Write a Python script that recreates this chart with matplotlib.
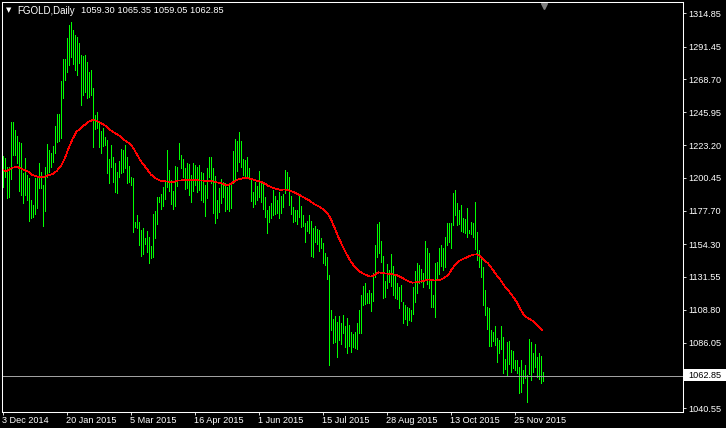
import matplotlib
matplotlib.use("Agg")
import matplotlib.pyplot as plt
import matplotlib.transforms as mtransforms
from matplotlib.patches import Rectangle
import numpy as np

# daily bar highs / lows (one value per bar)
highs = [
    1215.5, 1214.4, 1208.1, 1208.1, 1239.1, 1239.1, 1233.6, 1229.4, 1225.0, 1224.6,
    1203.7, 1213.9, 1202.3, 1200.0, 1185.0, 1181.5, 1200.0, 1201.2, 1210.7, 1204.6,
    1195.4, 1208.1, 1224.1, 1219.7, 1217.4, 1222.5, 1236.4, 1244.7, 1244.7, 1267.6,
    1282.9, 1282.9, 1297.3, 1306.5, 1308.4, 1303.0, 1299.6, 1298.4, 1293.8, 1285.7,
    1285.2, 1285.7, 1281.0, 1274.1, 1275.2, 1262.8, 1244.0, 1246.3, 1238.7, 1232.9,
    1235.2, 1228.9, 1226.6, 1213.2, 1223.1, 1215.0, 1210.4, 1204.6, 1212.0, 1220.1,
    1219.7, 1223.1, 1214.6, 1208.8, 1201.2, 1200.0, 1169.9, 1174.5, 1169.9, 1164.1,
    1165.7, 1158.3, 1163.4, 1159.5, 1153.0, 1175.2, 1177.3, 1187.3, 1186.8, 1189.1,
    1193.7, 1198.8, 1219.7, 1205.8, 1198.8, 1191.4, 1208.8, 1208.1, 1224.3, 1216.2,
    1213.3, 1207.0, 1210.5, 1210.0, 1202.4, 1210.9, 1209.3, 1208.2, 1209.3, 1204.7,
    1203.5, 1195.4, 1207.0, 1215.1, 1214.6, 1207.0, 1201.7, 1185.0, 1193.1, 1199.4,
    1197.7, 1196.6, 1194.3, 1196.1, 1197.7, 1219.0, 1227.1, 1226.0, 1232.0, 1226.2,
    1213.3, 1212.8, 1214.6, 1207.0, 1200.1, 1190.8, 1197.7, 1194.7, 1205.2, 1197.0,
    1196.1, 1186.9, 1178.1, 1180.5, 1183.0, 1192.0, 1187.8, 1185.0, 1190.6, 1187.8,
    1189.2, 1205.8, 1204.7, 1201.2, 1187.8, 1180.4, 1178.1, 1178.1, 1187.8, 1180.9,
    1174.6, 1169.3, 1170.7, 1174.6, 1170.7, 1165.3, 1166.9, 1164.6, 1164.2, 1158.4,
    1155.4, 1148.0, 1145.2, 1132.9, 1108.6, 1102.2, 1104.5, 1100.5, 1104.5, 1099.4,
    1105.2, 1097.5, 1102.8, 1098.2, 1093.6, 1092.0, 1093.6, 1099.4, 1108.6, 1119.0,
    1125.3, 1127.1, 1120.7, 1122.5, 1120.2, 1134.5, 1153.8, 1168.3, 1169.7, 1156.8,
    1146.1, 1129.0, 1140.6, 1136.4, 1147.5, 1139.2, 1132.9, 1127.6, 1124.8, 1126.0,
    1114.2, 1112.1, 1110.9, 1109.8, 1108.6, 1124.4, 1135.9, 1141.0, 1139.9, 1136.9,
    1134.1, 1156.8, 1151.4, 1148.4, 1129.9, 1119.0, 1141.5, 1142.2, 1151.4, 1153.8,
    1151.4, 1159.6, 1168.8, 1169.3, 1169.3, 1189.6, 1191.9, 1183.2, 1178.1, 1181.5,
    1172.3, 1171.6, 1179.2, 1164.2, 1169.5, 1168.8, 1183.6, 1163.0, 1150.3, 1146.1,
    1138.7, 1122.5, 1110.9, 1109.8, 1094.7, 1093.6, 1097.5, 1088.9, 1087.8, 1097.5,
    1090.1, 1074.4, 1086.6, 1087.3, 1080.8, 1080.4, 1073.9, 1073.9, 1069.3, 1073.9,
    1066.9, 1070.4, 1063.5, 1088.2, 1086.6, 1079.0, 1085.0, 1075.7, 1079.0, 1076.7,
    1065.35,
]
lows = [
    1194.2, 1201.2, 1186.6, 1187.3, 1199.6, 1216.2, 1216.2, 1210.4, 1191.2, 1188.4,
    1182.7, 1188.4, 1185.0, 1170.6, 1172.2, 1173.4, 1175.0, 1179.2, 1193.1, 1193.5,
    1167.1, 1177.3, 1201.2, 1204.6, 1208.1, 1211.6, 1217.4, 1225.5, 1226.2, 1228.3,
    1255.6, 1268.3, 1274.1, 1278.7, 1284.5, 1279.2, 1275.2, 1271.8, 1279.9, 1250.9,
    1257.9, 1260.2, 1256.0, 1256.7, 1257.9, 1222.0, 1234.0, 1234.7, 1221.5, 1217.4,
    1222.4, 1223.1, 1203.5, 1197.0, 1208.1, 1197.7, 1190.7, 1190.0, 1200.7, 1203.9,
    1204.6, 1206.9, 1196.5, 1197.7, 1195.4, 1163.0, 1166.0, 1165.3, 1153.7, 1146.3,
    1147.4, 1154.4, 1149.1, 1141.4, 1144.9, 1145.1, 1158.3, 1168.0, 1183.8, 1178.5,
    1180.8, 1185.6, 1193.7, 1191.4, 1182.2, 1178.5, 1180.8, 1194.7, 1213.2, 1206.9,
    1201.2, 1192.4, 1193.1, 1188.5, 1183.9, 1191.5, 1195.4, 1190.8, 1192.0, 1185.0,
    1183.9, 1173.9, 1186.2, 1201.2, 1196.6, 1175.7, 1169.3, 1172.3, 1176.9, 1183.2,
    1186.9, 1177.6, 1178.5, 1177.6, 1179.2, 1196.6, 1199.4, 1205.4, 1211.6, 1208.2,
    1202.4, 1201.7, 1200.8, 1201.2, 1184.6, 1179.9, 1182.2, 1185.0, 1186.9, 1183.9,
    1178.5, 1173.4, 1161.9, 1170.0, 1172.8, 1174.6, 1175.1, 1176.2, 1172.3, 1175.7,
    1179.9, 1190.1, 1192.4, 1181.5, 1175.3, 1170.0, 1170.7, 1168.4, 1173.0, 1166.0,
    1167.0, 1156.1, 1163.7, 1162.3, 1146.1, 1145.2, 1156.1, 1154.5, 1149.8, 1151.4,
    1141.0, 1139.9, 1129.9, 1070.4, 1094.7, 1085.5, 1086.6, 1075.7, 1087.8, 1085.0,
    1092.4, 1082.7, 1079.0, 1083.6, 1079.7, 1082.7, 1082.0, 1081.3, 1092.4, 1092.9,
    1112.1, 1112.8, 1113.7, 1113.2, 1108.2, 1115.1, 1131.8, 1145.2, 1148.4, 1142.2,
    1116.7, 1117.4, 1123.7, 1128.3, 1125.3, 1119.0, 1116.7, 1116.0, 1109.8, 1115.1,
    1099.8, 1102.1, 1098.2, 1101.7, 1101.2, 1105.8, 1114.4, 1120.7, 1127.6, 1128.3,
    1124.8, 1129.5, 1126.7, 1123.7, 1110.9, 1110.5, 1103.5, 1129.5, 1133.6, 1139.2,
    1136.4, 1138.2, 1153.8, 1156.0, 1151.4, 1167.6, 1174.6, 1167.6, 1168.3, 1163.7,
    1163.0, 1161.9, 1159.1, 1162.3, 1161.4, 1159.6, 1150.8, 1143.3, 1138.2, 1131.8,
    1112.1, 1105.1, 1095.2, 1083.6, 1083.6, 1087.3, 1084.3, 1072.7, 1079.0, 1081.3,
    1064.6, 1067.4, 1063.5, 1071.1, 1065.8, 1068.1, 1067.0, 1065.1, 1051.2, 1051.9,
    1057.7, 1061.2, 1045.0, 1064.2, 1060.0, 1065.8, 1068.8, 1061.9, 1060.5, 1057.7,
    1059.05,
]

# moving average (red line), read at these bar numbers
ma_idx = [0, 2, 5, 7, 9, 11, 13, 15, 17, 19, 21, 23, 25, 27, 29, 31, 33, 35, 37, 39,
          41, 43, 45, 47, 49, 51, 55, 58, 61, 64, 66, 69, 72, 74, 76, 79, 82, 85, 88, 95,
          101, 104, 107, 110, 112, 114, 116, 118, 120, 123, 126, 129, 131, 133, 136, 139,
          141, 144, 147, 150, 153, 156, 159, 162, 164, 166, 168, 170, 172, 174, 176, 178,
          180, 182, 184, 186, 188, 191, 194, 197, 200, 203, 205, 208, 211, 213, 216, 219,
          221, 223, 225, 227, 229, 231, 233, 235, 237, 239, 241, 243, 245, 247, 249, 251,
          253, 255, 257, 259, 261, 263, 265, 267, 269, 270]
ma_val = [1205.8, 1205.1, 1207.4, 1208.1, 1207.0, 1205.8, 1204.6, 1202.3, 1201.4, 1200.9,
          1201.2, 1202.3, 1203.0, 1205.1, 1208.1, 1213.4, 1220.8, 1227.3, 1232.4, 1234.7,
          1237.1, 1239.4, 1240.5, 1240.1, 1238.7, 1237.0, 1232.4, 1230.1, 1226.6, 1223.8,
          1219.7, 1212.3, 1206.9, 1203.0, 1200.5, 1198.4, 1197.9, 1197.4, 1198.6, 1198.9,
          1198.4, 1198.4, 1197.3, 1196.4, 1195.2, 1196.1, 1198.0, 1199.4, 1200.1, 1200.1,
          1198.9, 1197.7, 1196.6, 1194.7, 1193.1, 1192.0, 1192.4, 1191.3, 1189.6, 1187.3,
          1185.0, 1182.0, 1179.9, 1176.7, 1172.3, 1165.8, 1159.1, 1153.1, 1147.5, 1142.6,
          1138.7, 1136.0, 1134.1, 1132.9, 1131.8, 1132.9, 1134.8, 1134.1, 1133.6, 1132.9,
          1130.8, 1128.5, 1127.6, 1128.1, 1129.0, 1129.9, 1129.0, 1129.7, 1131.1, 1133.3,
          1137.6, 1141.0, 1143.3, 1144.5, 1145.7, 1147.0, 1147.3, 1146.1, 1143.3, 1140.6,
          1136.9, 1132.9, 1129.5, 1125.3, 1122.0, 1118.3, 1114.4, 1109.1, 1104.4, 1102.8,
          1101.2, 1098.9, 1095.9, 1094.7]

price_ticks = [1314.85, 1291.45, 1268.70, 1245.95, 1223.20, 1200.45, 1177.70,
               1154.30, 1131.55, 1108.80, 1086.05, 1040.55]
date_ticks = [0, 32, 64, 96, 128, 160, 192, 224, 256]
date_labels = ["3 Dec 2014", "20 Jan 2015", "5 Mar 2015", "16 Apr 2015", "1 Jun 2015",
               "15 Jul 2015", "28 Aug 2015", "13 Oct 2015", "25 Nov 2015"]
last_ohlc = [1059.30, 1065.35, 1059.05, 1062.85]

W, H = 726, 428
FONT = "Liberation Sans"
LW = 0.5  # thin enough to land on a single pixel with antialiasing off
fig = plt.figure(figsize=(W / 100, H / 100), dpi=100, facecolor="black")
ax = fig.add_axes([1.5 / W, (H - 411.7) / H, 681 / W, 409.4 / H], facecolor="black")

x = np.arange(len(highs))
ax.vlines(x, lows, highs, colors="#00ff00", linewidth=LW, antialiased=False)
ax.plot(ma_idx, ma_val, color="#ff0000", linewidth=LW, antialiased=False)
ax.axhline(last_ohlc[3], color="#a0a0a0", linewidth=LW, antialiased=False)

ax.set_xlim(-0.5, 340.0)
ax.set_ylim(1038.0, 1322.3)

for s in ax.spines.values():
    s.set_color("white")
    s.set_linewidth(0.75)

ax.yaxis.tick_right()
ax.set_yticks(price_ticks)
ax.set_yticklabels([f"{v:.2f}" for v in price_ticks], fontsize=6.6, family=FONT)
ax.set_xticks(date_ticks)
ax.set_xticklabels(date_labels, fontsize=6.6, family=FONT, ha="left")
ax.tick_params(axis="both", colors="white", direction="out", length=2.2, width=0.6)
ax.tick_params(axis="y", pad=1.8)
ax.tick_params(axis="x", pad=1.2)

# current price marker on the right scale
fig.patches.append(Rectangle((683 / W, (H - 381) / H), 43 / W, 12 / H,
                             transform=fig.transFigure, facecolor="white",
                             edgecolor="none"))
fig.text(688 / W, (H - 375) / H, f"{last_ohlc[3]:.2f}", color="black",
         fontsize=6.6, family=FONT, va="center", ha="left")

# chart shift marker at top
trans = mtransforms.blended_transform_factory(ax.transData, ax.transAxes)
ax.plot([270.5], [0.992], marker="v", markersize=5, color="#808080",
        transform=trans, clip_on=False, linestyle="none")

# header
fig.text(9 / W, (H - 10.5) / H, "\u25bc", color="white", fontsize=5,
         family="DejaVu Sans", ha="center", va="center")
fig.text(17 / W, (H - 10.5) / H, "FGOLD,Daily", color="white", fontsize=7,
         family=FONT, va="center", ha="left")
fig.text(81 / W, (H - 10.5) / H, " ".join(f"{v:.2f}" for v in last_ohlc),
         color="white", fontsize=6.7, family=FONT, va="center", ha="left")

fig.savefig("out.png", dpi=100, facecolor="black")
